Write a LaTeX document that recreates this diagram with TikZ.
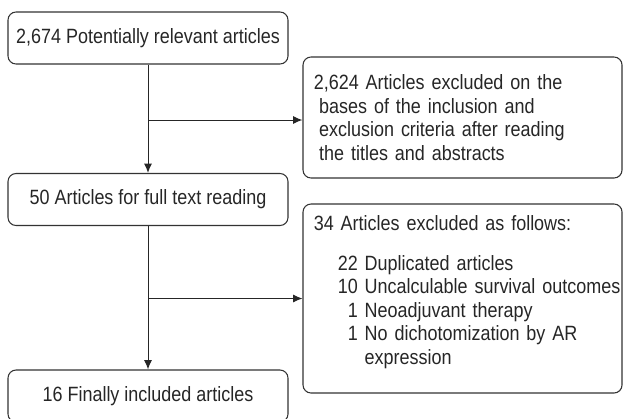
\documentclass[tikz,border=0pt]{standalone}
\usepackage{fontspec}
\setmainfont{Liberation Sans}[FakeStretch=0.87]
\usetikzlibrary{arrows.meta}

\begin{document}
\begin{tikzpicture}[x=0.75pt,y=-0.75pt,
        box/.style={draw=black!80,line width=0.8pt,rounded corners=6pt,
            minimum width=210pt,minimum height=39pt,inner sep=0pt,
            text=black!85,font=\fontsize{15.5pt}{17.7pt}\selectfont},
        sidebox/.style={box,minimum width=239.25pt,text width=223pt,
            align=left,inner xsep=8pt},
        flow/.style={-{Latex[length=7pt,width=6pt]},line width=0.75pt,draw=black!85}]
        \useasboundingbox (0,0) rectangle (623,418);

        \node[box] (all) at (148,38) {2,674 Potentially relevant articles};
        \node[box] (full) at (148,199.5) {50 Articles for full text reading};
        \node[box] (final) at (148,396) {16 Finally included articles};

        \node[sidebox,minimum height=90.75pt] (excl1) at (462.5,117.5) {2,624 Articles excluded on the\\
            \hspace*{4pt}bases of the inclusion and\\
            \hspace*{4pt}exclusion criteria after reading\\
            \hspace*{4pt}the titles and abstracts};
        \node[sidebox,minimum height=141.75pt] (excl2) at (462.5,298.5) {34 Articles excluded as follows:\\[12pt]
            \hspace*{18pt}22 Duplicated articles\\
            \mbox{\hspace*{18pt}10 Uncalculable survival outcomes}\\
            \hspace*{18pt}\phantom{0}1 Neoadjuvant therapy\\
            \hspace*{18pt}\phantom{0}1 No dichotomization by AR\\
            \hspace*{18pt}\phantom{01}\ expression\par\vspace{9.5pt}};

        \coordinate (split1) at (148,120);
        \coordinate (split2) at (148,298.5);

        \draw[flow] (all) -- (full);
        \draw[flow] (full) -- (final);
        \draw[flow] (split1) -- (split1 -| excl1.west);
        \draw[flow] (split2) -- (split2 -| excl2.west);

    \end{tikzpicture}
\end{document}
